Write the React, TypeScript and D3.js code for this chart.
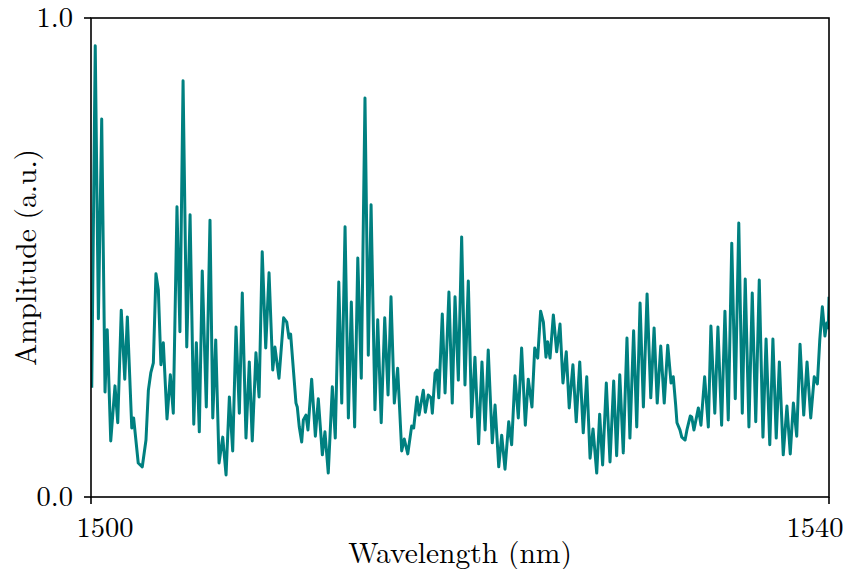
import React from "react";
import * as d3 from "d3";

const wavelengths = [
  1500.04, 1500.23, 1500.40, 1500.58, 1500.76, 1500.88, 1501.07, 1501.30, 1501.45, 1501.64,
  1501.83, 1501.97, 1502.21, 1502.31, 1502.56, 1502.78, 1502.98, 1503.11, 1503.24, 1503.38,
  1503.52, 1503.65, 1503.79, 1503.92, 1504.12, 1504.30, 1504.46, 1504.66, 1504.82, 1504.99,
  1505.19, 1505.37, 1505.57, 1505.71, 1505.87, 1506.03, 1506.25, 1506.45, 1506.60, 1506.76,
  1506.94, 1507.14, 1507.32, 1507.50, 1507.68, 1507.86, 1508.04, 1508.20, 1508.40, 1508.58,
  1508.74, 1508.94, 1509.11, 1509.28, 1509.47, 1509.65, 1509.85, 1509.97, 1510.19, 1510.44,
  1510.61, 1510.73, 1510.82, 1511.11, 1511.18, 1511.29, 1511.42, 1511.51, 1511.65, 1511.76,
  1511.96, 1512.16, 1512.32, 1512.54, 1512.68, 1512.86, 1513.08, 1513.24, 1513.43, 1513.59,
  1513.77, 1513.95, 1514.11, 1514.29, 1514.46, 1514.65, 1514.85, 1515.03, 1515.18, 1515.39,
  1515.54, 1515.73, 1515.92, 1516.10, 1516.26, 1516.44, 1516.62, 1516.84, 1516.98, 1517.17,
  1517.38, 1517.49, 1517.67, 1517.78, 1518.01, 1518.12, 1518.28, 1518.43, 1518.50, 1518.65,
  1518.75, 1518.85, 1519.04, 1519.19, 1519.40, 1519.58, 1519.73, 1519.91, 1520.09, 1520.27,
  1520.45, 1520.63, 1520.81, 1521.01, 1521.19, 1521.36, 1521.53, 1521.75, 1521.90, 1522.10,
  1522.26, 1522.44, 1522.64, 1522.80, 1522.98, 1523.16, 1523.34, 1523.54, 1523.70, 1523.90,
  1524.05, 1524.21, 1524.37, 1524.52, 1524.66, 1524.75, 1524.88, 1525.06, 1525.24, 1525.42,
  1525.58, 1525.76, 1525.92, 1526.12, 1526.30, 1526.49, 1526.68, 1526.87, 1527.05, 1527.21,
  1527.41, 1527.57, 1527.73, 1527.93, 1528.13, 1528.33, 1528.49, 1528.66, 1528.85, 1529.05,
  1529.21, 1529.41, 1529.58, 1529.76, 1529.94, 1530.14, 1530.34, 1530.52, 1530.69, 1530.88,
  1531.07, 1531.26, 1531.44, 1531.56, 1531.69, 1531.76, 1531.92, 1532.02, 1532.20, 1532.30,
  1532.48, 1532.56, 1532.68, 1532.92, 1533.06, 1533.26, 1533.46, 1533.60, 1533.81, 1533.98,
  1534.18, 1534.36, 1534.54, 1534.73, 1534.92, 1535.11, 1535.30, 1535.46, 1535.66, 1535.84,
  1536.03, 1536.22, 1536.42, 1536.59, 1536.79, 1536.96, 1537.14, 1537.31, 1537.52, 1537.72,
  1537.90, 1538.07, 1538.25, 1538.43, 1538.63, 1538.81, 1539.01, 1539.20, 1539.37, 1539.50,
  1539.64, 1539.78, 1539.88, 1539.96, 1540.00,
];

const amplitudes = [
  0.228, 0.942, 0.372, 0.789, 0.219, 0.349, 0.117, 0.232, 0.155, 0.390,
  0.246, 0.376, 0.144, 0.165, 0.071, 0.063, 0.119, 0.223, 0.259, 0.280,
  0.466, 0.432, 0.276, 0.322, 0.163, 0.255, 0.175, 0.606, 0.345, 0.869,
  0.313, 0.589, 0.152, 0.322, 0.136, 0.472, 0.188, 0.578, 0.165, 0.328,
  0.071, 0.125, 0.046, 0.209, 0.096, 0.355, 0.175, 0.426, 0.123, 0.282,
  0.117, 0.301, 0.209, 0.512, 0.311, 0.468, 0.265, 0.313, 0.248, 0.374,
  0.365, 0.332, 0.340, 0.196, 0.188, 0.146, 0.115, 0.161, 0.171, 0.140,
  0.246, 0.127, 0.205, 0.088, 0.136, 0.050, 0.230, 0.123, 0.449, 0.196,
  0.564, 0.165, 0.407, 0.146, 0.499, 0.248, 0.833, 0.296, 0.610, 0.182,
  0.370, 0.155, 0.374, 0.213, 0.418, 0.196, 0.269, 0.096, 0.121, 0.090,
  0.148, 0.144, 0.209, 0.171, 0.223, 0.177, 0.213, 0.207, 0.175, 0.259,
  0.265, 0.207, 0.382, 0.217, 0.428, 0.196, 0.418, 0.244, 0.543, 0.234,
  0.451, 0.167, 0.292, 0.111, 0.282, 0.140, 0.307, 0.113, 0.192, 0.063,
  0.129, 0.058, 0.157, 0.109, 0.253, 0.165, 0.311, 0.150, 0.246, 0.188,
  0.311, 0.290, 0.388, 0.365, 0.292, 0.324, 0.290, 0.380, 0.303, 0.361,
  0.238, 0.303, 0.186, 0.276, 0.157, 0.282, 0.134, 0.251, 0.081, 0.142,
  0.050, 0.173, 0.067, 0.238, 0.073, 0.242, 0.086, 0.255, 0.092, 0.332,
  0.123, 0.347, 0.146, 0.405, 0.188, 0.424, 0.207, 0.353, 0.196, 0.315,
  0.196, 0.317, 0.238, 0.251, 0.192, 0.155, 0.140, 0.125, 0.119, 0.140,
  0.169, 0.167, 0.140, 0.186, 0.150, 0.251, 0.146, 0.357, 0.175, 0.355,
  0.150, 0.388, 0.161, 0.530, 0.205, 0.572, 0.175, 0.455, 0.146, 0.426,
  0.157, 0.453, 0.125, 0.330, 0.109, 0.330, 0.123, 0.282, 0.088, 0.190,
  0.090, 0.196, 0.127, 0.319, 0.171, 0.282, 0.165, 0.251, 0.236, 0.328,
  0.397, 0.336, 0.363, 0.353, 0.418,
];

const xTicks = [1500, 1540];
const yTicks = [0.0, 1.0];
const xLabel = "Wavelength (nm)";
const yLabel = "Amplitude (a.u.)";

const W = 850;
const H = 569;
const M = { left: 91, right: 829, top: 18, bottom: 497 };
const FONT = `"Latin Modern Roman", "Liberation Serif", serif`;

export default function App() {
  const x = d3.scaleLinear().domain([1500, 1540]).range([M.left, M.right]);
  const y = d3.scaleLinear().domain([0, 1]).range([M.bottom, M.top]);
  const data = wavelengths.map((w, i) => [w, amplitudes[i]] as [number, number]);
  const line = d3
    .line<[number, number]>()
    .x((d) => x(d[0]))
    .y((d) => y(d[1]));

  return (
    <div style={{ position: "absolute", left: 0, top: 0 }}>
      <svg width={W} height={H} viewBox={`0 0 ${W} ${H}`} style={{ display: "block", background: "#fff" }}>
        <defs>
          <clipPath id="plotclip">
            <rect x={M.left} y={M.top} width={M.right - M.left} height={M.bottom - M.top} />
          </clipPath>
        </defs>
        <path
          d={line(data) || ""}
          fill="none"
          stroke="#008080"
          strokeWidth={3}
          strokeLinejoin="round"
          strokeLinecap="butt"
          clipPath="url(#plotclip)"
        />
        <rect
          x={M.left}
          y={M.top}
          width={M.right - M.left}
          height={M.bottom - M.top}
          fill="none"
          stroke="#000"
          strokeWidth={1.6}
        />
        {xTicks.map((t, i) => (
          <g key={"xt" + t}>
            <line x1={x(t)} x2={x(t)} y1={M.bottom} y2={M.bottom + 7} stroke="#000" strokeWidth={1.6} />
            <text
              x={x(t) + (i === 0 ? 14 : -14)}
              y={537}
              textAnchor="middle"
              style={{ fontFamily: FONT, fontSize: "28.5px" }}
              fill="#000"
            >
              {String(t)}
            </text>
          </g>
        ))}
        {yTicks.map((t) => (
          <g key={"yt" + t}>
            <line x1={M.left - 7} x2={M.left} y1={y(t)} y2={y(t)} stroke="#000" strokeWidth={1.6} />
            <text
              x={M.left - 18}
              y={y(t)}
              dy="0.32em"
              textAnchor="end"
              style={{ fontFamily: FONT, fontSize: "28.5px" }}
              fill="#000"
            >
              {t.toFixed(1)}
            </text>
          </g>
        ))}
        <text
          x={(M.left + M.right) / 2}
          y={563}
          textAnchor="middle"
          style={{ fontFamily: FONT, fontSize: "29.5px" }}
          fill="#000"
        >
          {xLabel}
        </text>
        <text
          transform={`translate(36, ${(M.top + M.bottom) / 2}) rotate(-90)`}
          textAnchor="middle"
          style={{ fontFamily: FONT, fontSize: "29.5px" }}
          fill="#000"
        >
          {yLabel}
        </text>
      </svg>
    </div>
  );
}
